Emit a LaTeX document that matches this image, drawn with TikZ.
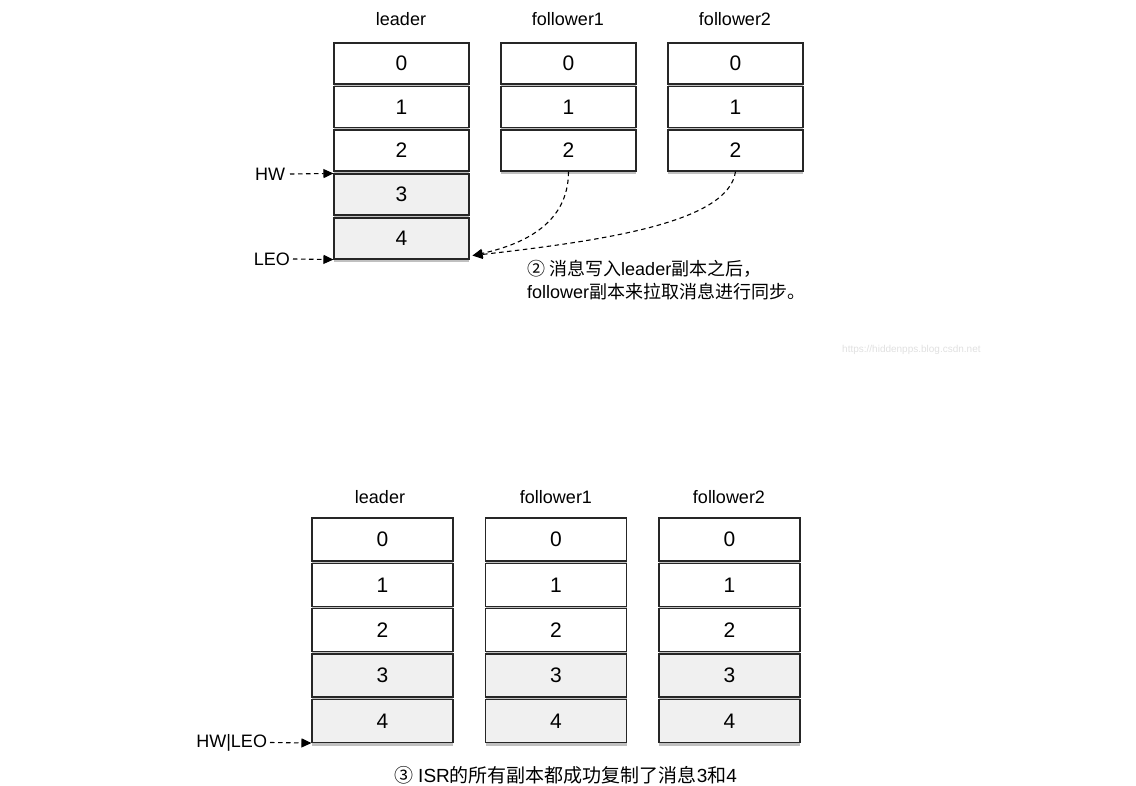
\documentclass[tikz,border=0pt]{standalone}
\usepackage{fontspec}
\setmainfont{Liberation Sans}
\newfontfamily\cjk{Noto Sans CJK SC}
\usetikzlibrary{arrows.meta,shadows}
\begin{document}
\begin{tikzpicture}[x=1pt,y=-1pt,
  cell/.style={draw=black!85, line width=1.1pt, minimum width=135pt, minimum height=41pt,
    fill=white, inner sep=0pt, font=\fontsize{21}{24}\selectfont,
    drop shadow={shadow xshift=0pt, shadow yshift=-3pt, opacity=0.45, fill=black!55}},
  newcell/.style={cell, fill=black!6},
  bigcell/.style={minimum width=141pt, minimum height=43pt},
  title/.style={font=\fontsize{18}{21}\selectfont, inner sep=2pt},
  ptrlabel/.style={font=\fontsize{18}{21}\selectfont, inner ysep=2pt, inner xsep=0pt, outer xsep=0pt, anchor=east},
  note/.style={font=\fontsize{18}{22}\selectfont, inner sep=0pt},
  ptr/.style={line width=1.1pt, dash pattern=on 4.5pt off 3.5pt, -{Triangle[length=10pt,width=9pt]}}
]
\useasboundingbox (0,0) rectangle (1136,786);

% ---------- top diagram ----------
\node[title] (tlt) at (401,19) {leader};
\node[title] (tf1t) at (568,19) {follower1};
\node[title] (tf2t) at (735,19) {follower2};

\node[cell] (tl0) at (401.5,63.5) {0};
\node[cell] (tl1) at (401.5,107) {1};
\node[cell] (tl2) at (401.5,150.5) {2};
\node[newcell] (tl3) at (401.5,194.5) {3};
\node[newcell] (tl4) at (401.5,238.5) {4};

\node[cell] (ta0) at (568.5,63.5) {0};
\node[cell] (ta1) at (568.5,107) {1};
\node[cell] (ta2) at (568.5,150.5) {2};

\node[cell] (tb0) at (735.5,63.5) {0};
\node[cell] (tb1) at (735.5,107) {1};
\node[cell] (tb2) at (735.5,150.5) {2};

\node[ptrlabel] (hw) at (285,174) {HW};
\node[ptrlabel] (leo) at (290,259) {LEO};
\draw[ptr] ([xshift=5pt]hw.east) -- (tl3.north west);
\draw[ptr] ([xshift=3pt]leo.east) -- (tl4.south west);

\coordinate (tip) at ([xshift=3pt,yshift=4pt]tl4.south east);
\draw[ptr] (ta2.south) .. controls ++(0,54) and (520,245) .. (tip);
\draw[ptr] (tb2.south) .. controls ++(-7,50) and (610,240) .. (tip);

\node[note, anchor=west] (n1) at (527,269) {{\cjk ② 消息写入}leader{\cjk 副本之后，}};
\node[note, anchor=west] (n2) at (527,292) {follower{\cjk 副本来拉取消息进行同步。}};

\node[font=\fontsize{10}{12}\selectfont, text=black!12, anchor=west, inner sep=0pt] (wm) at (842,350) {https://hiddenpps.blog.csdn.net};

% ---------- bottom diagram ----------
\node[title] (blt) at (380,497) {leader};
\node[title] (bf1t) at (556,497) {follower1};
\node[title] (bf2t) at (729,497) {follower2};

\node[cell,bigcell] (bl0) at (382.5,539.5) {0};
\node[cell,bigcell] (bl1) at (382.5,585) {1};
\node[cell,bigcell] (bl2) at (382.5,630) {2};
\node[newcell,bigcell] (bl3) at (382.5,675.5) {3};
\node[newcell,bigcell] (bl4) at (382.5,721) {4};

\node[cell,bigcell] (ba0) at (556,539.5) {0};
\node[cell,bigcell] (ba1) at (556,585) {1};
\node[cell,bigcell] (ba2) at (556,630) {2};
\node[newcell,bigcell] (ba3) at (556,675.5) {3};
\node[newcell,bigcell] (ba4) at (556,721) {4};

\node[cell,bigcell] (bb0) at (729.5,539.5) {0};
\node[cell,bigcell] (bb1) at (729.5,585) {1};
\node[cell,bigcell] (bb2) at (729.5,630) {2};
\node[newcell,bigcell] (bb3) at (729.5,675.5) {3};
\node[newcell,bigcell] (bb4) at (729.5,721) {4};

\node[ptrlabel] (hwleo) at (267,742.5) {HW|LEO};
\draw[ptr] ([xshift=3pt]hwleo.east) -- (bl4.south west);

\node[note, font=\fontsize{19}{22}\selectfont] (cap) at (566,775) {{\cjk ③ }ISR{\cjk 的所有副本都成功复制了消息}3{\cjk 和}4};
\end{tikzpicture}
\end{document}
